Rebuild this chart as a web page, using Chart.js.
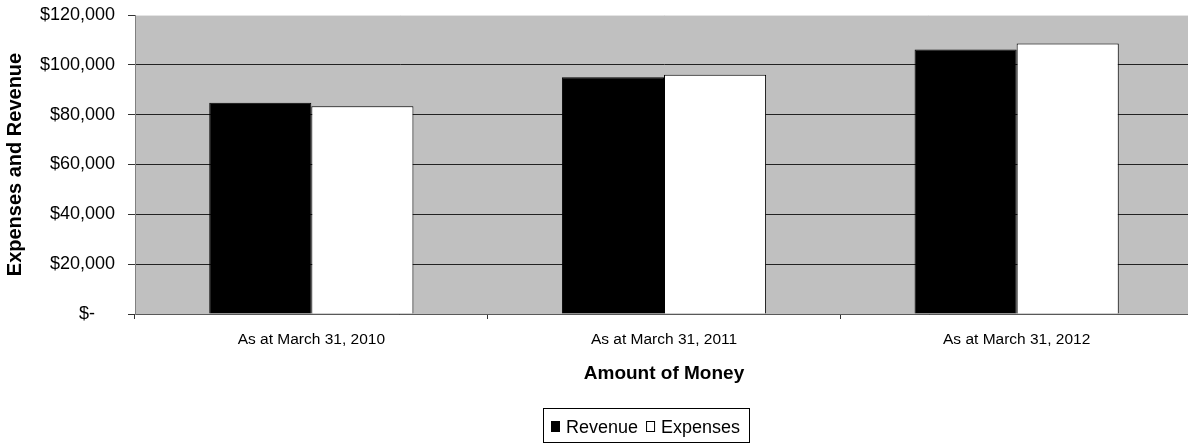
<!DOCTYPE html>
<html>
<head>
<meta charset="utf-8">
<title>Expenses and Revenue</title>
<script src="https://cdn.jsdelivr.net/npm/chart.js@4/dist/chart.umd.min.js"></script>
<style>
    html, body { margin: 0; padding: 0; background: #fff; overflow: hidden; }
    #wrap { width: 1193px; height: 445px; }
</style>
</head>
<body>
<div id="wrap"><canvas id="money-chart" width="1193" height="445"></canvas></div>
<script>
// Chart values
const categories = ["As at March 31, 2010", "As at March 31, 2011", "As at March 31, 2012"];
const revenue = [84800, 95000, 106200];
const expenses = [83400, 96000, 108600];
const yTicks = [0, 20000, 40000, 60000, 80000, 100000, 120000];

const FONT = "'Liberation Sans', Arial, sans-serif";

function money(v) {
    if (v === 0) return "$-    ";
    return "$" + v.toLocaleString("en-US");
}

// grey plot area behind the bars
const plotBackground = {
    id: "plotBackground",
    beforeDraw(chart) {
        const { ctx, chartArea: a } = chart;
        ctx.save();
        ctx.fillStyle = "#c0c0c0";
        ctx.fillRect(a.left, a.top, a.right - a.left, a.bottom - a.top);
        ctx.restore();
    }
};

// boxed legend under the axis title
const boxedLegend = {
    id: "boxedLegend",
    afterDraw(chart) {
        const ctx = chart.ctx;
        const sets = chart.data.datasets;
        ctx.save();
        ctx.strokeStyle = "#000";
        ctx.lineWidth = 1;
        ctx.strokeRect(543.5, 408.5, 206, 34);
        ctx.font = "18px " + FONT;
        ctx.textBaseline = "alphabetic";
        let x = 551;
        sets.forEach(ds => {
            ctx.fillStyle = ds.backgroundColor;
            ctx.fillRect(x, 421, 9, 11);
            ctx.strokeStyle = "#000";
            ctx.strokeRect(x + 0.5, 421.5, 8, 10);
            ctx.fillStyle = "#000";
            ctx.fillText(ds.label, x + 15, 433);
            x += 15 + ctx.measureText(ds.label).width + 8;
        });
        ctx.restore();
    }
};

const ctx = document.getElementById("money-chart").getContext("2d");
new Chart(ctx, {
    type: "bar",
    data: {
        labels: categories,
        datasets: [
            {
                label: "Revenue",
                data: revenue,
                backgroundColor: "#000000",
                borderColor: "#000000",
                borderWidth: 1
            },
            {
                label: "Expenses",
                data: expenses,
                backgroundColor: "#ffffff",
                borderColor: "#000000",
                borderWidth: 1
            }
        ]
    },
    options: {
        responsive: false,
        animation: false,
        devicePixelRatio: 1,
        layout: { padding: { top: 15, right: 0, bottom: 51, left: 0 } },
        datasets: {
            bar: { barPercentage: 1.0, categoryPercentage: 0.579 }
        },
        plugins: {
            legend: { display: false },
            tooltip: { enabled: false }
        },
        scales: {
            x: {
                offset: true,
                grid: {
                    offset: true,
                    drawOnChartArea: false,
                    tickLength: 5,
                    tickColor: "#333"
                },
                border: { color: "#595959", width: 1 },
                ticks: {
                    padding: 11,
                    color: "#000",
                    font: { family: FONT, size: 15.5 }
                },
                title: {
                    display: true,
                    text: "Amount of Money",
                    color: "#000",
                    font: { family: FONT, size: 19, weight: "bold" },
                    padding: { top: 0, bottom: 9 }
                },
                afterFit(scale) {
                    scale.height = 80;
                    scale.paddingLeft = 0;
                    scale.paddingRight = 0;
                }
            },
            y: {
                min: 0,
                max: 120000,
                afterBuildTicks(scale) {
                    scale.ticks = yTicks.map(v => ({ value: v }));
                },
                grid: {
                    color: c => (c.tick && c.tick.value === 120000) ? "#e4e4e4" : "#222",
                    tickLength: 7,
                    tickColor: "#333"
                },
                border: { color: "#808080", width: 1 },
                ticks: {
                    padding: 13,
                    color: "#000",
                    font: { family: FONT, size: 18 },
                    callback: v => money(v)
                },
                title: {
                    display: true,
                    text: "Expenses and Revenue",
                    color: "#000",
                    font: { family: FONT, size: 20, weight: "bold" },
                    padding: { top: 3, bottom: 0 }
                },
                afterFit(scale) {
                    scale.width = 135;
                    scale.paddingTop = 0;
                    scale.paddingBottom = 0;
                }
            }
        }
    },
    plugins: [plotBackground, boxedLegend]
});
</script>
</body>
</html>
